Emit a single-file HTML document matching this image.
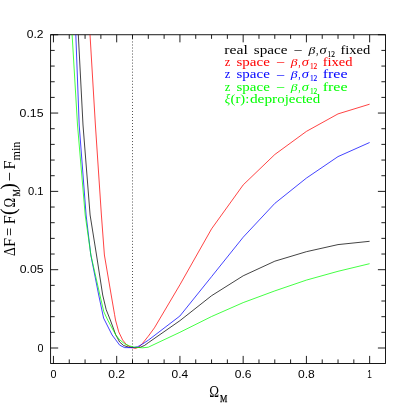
<!DOCTYPE html>
<html><head><meta charset="utf-8"><title>plot</title>
<style>html,body{margin:0;padding:0;background:#fff;overflow:hidden;}svg{display:block;}text{font-family:"Liberation Serif",serif;}.n{font-family:"Liberation Sans",sans-serif;font-size:11.2px;}</style></head><body>
<svg width="407" height="407" viewBox="0 0 407 407">
<rect width="407" height="407" fill="#fff"/>
<defs><filter id="g" x="0" y="0" width="407" height="407" filterUnits="userSpaceOnUse"><feOffset dx="0" dy="0"/></filter><clipPath id="c"><rect x="50.60" y="34.75" width="334.90" height="328.75"/></clipPath></defs>
<path d="M53.45 363.50v-7.60M53.45 34.75v7.60M69.26 363.50v-4.10M69.26 34.75v4.10M85.07 363.50v-4.10M85.07 34.75v4.10M100.88 363.50v-4.10M100.88 34.75v4.10M116.69 363.50v-7.60M116.69 34.75v7.60M132.50 363.50v-4.10M132.50 34.75v4.10M148.31 363.50v-4.10M148.31 34.75v4.10M164.12 363.50v-4.10M164.12 34.75v4.10M179.93 363.50v-7.60M179.93 34.75v7.60M195.74 363.50v-4.10M195.74 34.75v4.10M211.55 363.50v-4.10M211.55 34.75v4.10M227.36 363.50v-4.10M227.36 34.75v4.10M243.17 363.50v-7.60M243.17 34.75v7.60M258.98 363.50v-4.10M258.98 34.75v4.10M274.79 363.50v-4.10M274.79 34.75v4.10M290.60 363.50v-4.10M290.60 34.75v4.10M306.41 363.50v-7.60M306.41 34.75v7.60M322.22 363.50v-4.10M322.22 34.75v4.10M338.03 363.50v-4.10M338.03 34.75v4.10M353.84 363.50v-4.10M353.84 34.75v4.10M369.65 363.50v-7.60M369.65 34.75v7.60M50.60 348.00h7.60M385.50 348.00h-7.60M50.60 332.34h4.10M385.50 332.34h-4.10M50.60 316.68h4.10M385.50 316.68h-4.10M50.60 301.01h4.10M385.50 301.01h-4.10M50.60 285.35h4.10M385.50 285.35h-4.10M50.60 269.69h7.60M385.50 269.69h-7.60M50.60 254.03h4.10M385.50 254.03h-4.10M50.60 238.36h4.10M385.50 238.36h-4.10M50.60 222.70h4.10M385.50 222.70h-4.10M50.60 207.04h4.10M385.50 207.04h-4.10M50.60 191.38h7.60M385.50 191.38h-7.60M50.60 175.71h4.10M385.50 175.71h-4.10M50.60 160.05h4.10M385.50 160.05h-4.10M50.60 144.39h4.10M385.50 144.39h-4.10M50.60 128.72h4.10M385.50 128.72h-4.10M50.60 113.06h7.60M385.50 113.06h-7.60M50.60 97.40h4.10M385.50 97.40h-4.10M50.60 81.74h4.10M385.50 81.74h-4.10M50.60 66.07h4.10M385.50 66.07h-4.10M50.60 50.41h4.10M385.50 50.41h-4.10M50.60 34.75h7.60M385.50 34.75h-7.60" stroke="#000" stroke-width="0.88" fill="none"/>
<rect x="50.60" y="34.75" width="334.90" height="328.75" fill="none" stroke="#000" stroke-width="0.9"/>
<path d="M132.50 35.50V363.50" stroke="#000" stroke-width="0.8" stroke-dasharray="0.85 2.17" fill="none"/>
<g clip-path="url(#c)" fill="none" stroke-width="0.74" stroke-linejoin="round">
<polyline points="76.2,0.0 78.3,34.5 83.0,125.0 90.1,215.0 96.5,255.0 102.7,295.0 106.2,309.7 110.3,320.0 115.7,334.7 119.7,342.1 123.6,345.5 128.5,347.1 134.7,347.6 140.0,347.4 144.6,345.4 148.3,342.7 179.9,320.7 211.6,295.7 243.2,275.8 274.8,261.2 306.4,251.7 338.0,244.6 369.6,241.3" stroke="#000"/>
<polyline points="88.0,0.0 90.0,34.5 95.4,125.0 101.4,215.0 104.4,255.0 111.2,295.0 114.6,314.7 115.5,320.0 118.7,331.8 122.6,339.9 126.5,344.8 131.4,347.5 135.4,348.4 139.0,347.1 142.6,343.3 148.3,336.2 154.4,327.9 179.9,284.8 211.6,228.8 243.2,184.9 274.8,154.5 306.4,131.4 338.0,113.9 369.6,104.2" stroke="#f00"/>
<polyline points="73.9,0.0 75.8,34.5 79.2,125.0 86.1,215.0 90.8,255.0 98.7,295.0 103.6,318.1 112.1,335.0 115.7,339.8 119.7,345.2 124.6,347.6 132.4,347.7 137.7,346.7 142.6,344.0 148.3,340.2 179.9,316.0 211.6,276.6 243.2,237.2 274.8,203.4 306.4,178.1 338.0,156.6 369.6,142.5" stroke="#00f"/>
<polyline points="70.0,0.0 72.1,34.5 77.5,125.0 85.2,215.0 90.9,255.0 99.9,295.0 103.8,311.7 107.7,320.0 115.8,335.0 119.7,339.8 124.6,343.8 129.5,345.9 134.4,347.2 140.0,347.6 142.6,347.8 148.3,347.2 179.9,332.3 211.6,316.5 243.2,302.6 274.8,290.9 306.4,280.1 338.0,271.3 369.6,263.7" stroke="#0f0"/>
</g>
<g filter="url(#g)" style="will-change:transform">
<text class="n" x="53.45" y="377.90" text-anchor="middle" textLength="6.0" lengthAdjust="spacingAndGlyphs">0</text>
<text class="n" x="116.69" y="377.90" text-anchor="middle" textLength="16.8" lengthAdjust="spacingAndGlyphs">0.2</text>
<text class="n" x="179.93" y="377.90" text-anchor="middle" textLength="16.6" lengthAdjust="spacingAndGlyphs">0.4</text>
<text class="n" x="243.17" y="377.90" text-anchor="middle" textLength="16.8" lengthAdjust="spacingAndGlyphs">0.6</text>
<text class="n" x="306.41" y="377.90" text-anchor="middle" textLength="16.8" lengthAdjust="spacingAndGlyphs">0.8</text>
<text class="n" x="369.65" y="377.90" text-anchor="middle" textLength="4.6" lengthAdjust="spacingAndGlyphs">1</text>
<text class="n" x="43.60" y="351.70" text-anchor="end" textLength="6.0" lengthAdjust="spacingAndGlyphs">0</text>
<text class="n" x="43.60" y="273.39" text-anchor="end" textLength="23.8" lengthAdjust="spacingAndGlyphs">0.05</text>
<text class="n" x="43.60" y="195.07" text-anchor="end" textLength="15.6" lengthAdjust="spacingAndGlyphs">0.1</text>
<text class="n" x="43.60" y="116.76" text-anchor="end" textLength="24.0" lengthAdjust="spacingAndGlyphs">0.15</text>
<text class="n" x="43.60" y="38.45" text-anchor="end" textLength="16.8" lengthAdjust="spacingAndGlyphs">0.2</text>
<text x="224.30" y="53.60" font-size="12.8px" fill="#000" textLength="23.5" lengthAdjust="spacingAndGlyphs">real</text>
<text x="253.80" y="53.60" font-size="12.8px" fill="#000" textLength="33.7" lengthAdjust="spacingAndGlyphs">space</text>
<text x="294.60" y="52.90" font-size="12.8px" fill="#000" textLength="7.2" lengthAdjust="spacingAndGlyphs">–</text>
<text x="308.40" y="53.60" font-size="11.4px" fill="#000" textLength="6.8" lengthAdjust="spacingAndGlyphs" font-style="italic">β</text>
<text x="315.90" y="53.60" font-size="12.8px" fill="#000" textLength="2.4" lengthAdjust="spacingAndGlyphs">,</text>
<text x="319.40" y="53.60" font-size="12.8px" fill="#000" textLength="7.1" lengthAdjust="spacingAndGlyphs" font-style="italic">σ</text>
<text x="327.60" y="56.70" font-size="7.3px" fill="#000" textLength="7.4" lengthAdjust="spacingAndGlyphs" stroke="#000" stroke-width="0.12">12</text>
<text x="340.40" y="53.60" font-size="12.8px" fill="#000" textLength="29.9" lengthAdjust="spacingAndGlyphs">fixed</text>
<text x="224.80" y="65.90" font-size="12.8px" fill="#f00" textLength="5.6" lengthAdjust="spacingAndGlyphs">z</text>
<text x="236.50" y="65.90" font-size="12.8px" fill="#f00" textLength="33.3" lengthAdjust="spacingAndGlyphs">space</text>
<text x="276.90" y="65.20" font-size="12.8px" fill="#f00" textLength="7.2" lengthAdjust="spacingAndGlyphs">–</text>
<text x="290.70" y="65.90" font-size="11.4px" fill="#f00" textLength="6.8" lengthAdjust="spacingAndGlyphs" font-style="italic">β</text>
<text x="298.20" y="65.90" font-size="12.8px" fill="#f00" textLength="2.4" lengthAdjust="spacingAndGlyphs">,</text>
<text x="301.70" y="65.90" font-size="12.8px" fill="#f00" textLength="7.1" lengthAdjust="spacingAndGlyphs" font-style="italic">σ</text>
<text x="309.90" y="69.00" font-size="7.3px" fill="#f00" textLength="7.4" lengthAdjust="spacingAndGlyphs" stroke="#f00" stroke-width="0.12">12</text>
<text x="322.70" y="65.90" font-size="12.8px" fill="#f00" textLength="29.9" lengthAdjust="spacingAndGlyphs">fixed</text>
<text x="224.80" y="78.30" font-size="12.8px" fill="#00f" textLength="5.6" lengthAdjust="spacingAndGlyphs">z</text>
<text x="236.50" y="78.30" font-size="12.8px" fill="#00f" textLength="33.3" lengthAdjust="spacingAndGlyphs">space</text>
<text x="276.90" y="77.60" font-size="12.8px" fill="#00f" textLength="7.2" lengthAdjust="spacingAndGlyphs">–</text>
<text x="290.70" y="78.30" font-size="11.4px" fill="#00f" textLength="6.8" lengthAdjust="spacingAndGlyphs" font-style="italic">β</text>
<text x="298.20" y="78.30" font-size="12.8px" fill="#00f" textLength="2.4" lengthAdjust="spacingAndGlyphs">,</text>
<text x="301.70" y="78.30" font-size="12.8px" fill="#00f" textLength="7.1" lengthAdjust="spacingAndGlyphs" font-style="italic">σ</text>
<text x="309.90" y="81.40" font-size="7.3px" fill="#00f" textLength="7.4" lengthAdjust="spacingAndGlyphs" stroke="#00f" stroke-width="0.12">12</text>
<text x="322.70" y="78.30" font-size="12.8px" fill="#00f" textLength="24.9" lengthAdjust="spacingAndGlyphs">free</text>
<text x="224.80" y="90.60" font-size="12.8px" fill="#0f0" textLength="5.6" lengthAdjust="spacingAndGlyphs">z</text>
<text x="236.50" y="90.60" font-size="12.8px" fill="#0f0" textLength="33.3" lengthAdjust="spacingAndGlyphs">space</text>
<text x="276.90" y="89.90" font-size="12.8px" fill="#0f0" textLength="7.2" lengthAdjust="spacingAndGlyphs">–</text>
<text x="290.70" y="90.60" font-size="11.4px" fill="#0f0" textLength="6.8" lengthAdjust="spacingAndGlyphs" font-style="italic">β</text>
<text x="298.20" y="90.60" font-size="12.8px" fill="#0f0" textLength="2.4" lengthAdjust="spacingAndGlyphs">,</text>
<text x="301.70" y="90.60" font-size="12.8px" fill="#0f0" textLength="7.1" lengthAdjust="spacingAndGlyphs" font-style="italic">σ</text>
<text x="309.90" y="93.70" font-size="7.3px" fill="#0f0" textLength="7.4" lengthAdjust="spacingAndGlyphs" stroke="#0f0" stroke-width="0.12">12</text>
<text x="322.70" y="90.60" font-size="12.8px" fill="#0f0" textLength="24.9" lengthAdjust="spacingAndGlyphs">free</text>
<text x="224.70" y="102.80" font-size="12.8px" fill="#0f0" textLength="5.5" lengthAdjust="spacingAndGlyphs" font-style="italic">ξ</text>
<text x="230.60" y="102.80" font-size="12.8px" fill="#0f0" textLength="18.7" lengthAdjust="spacingAndGlyphs">(r):</text>
<text x="249.90" y="102.80" font-size="12.8px" fill="#0f0" textLength="27.3" lengthAdjust="spacingAndGlyphs">depr</text>
<text x="277.20" y="102.80" font-size="12.8px" fill="#0f0" textLength="43.0" lengthAdjust="spacingAndGlyphs">ojected</text>
<text x="209.30" y="397.20" font-size="16.8px" fill="#000" textLength="9.8" lengthAdjust="spacingAndGlyphs">Ω</text>
<text x="219.90" y="402.10" font-size="9.8px" fill="#000" textLength="7.3" lengthAdjust="spacingAndGlyphs" stroke="#000" stroke-width="0.25">M</text>
<g transform="translate(14.7,0) rotate(-90)">
<text x="-256.10" y="0.00" font-size="17.0px" fill="#000" textLength="8.8" lengthAdjust="spacingAndGlyphs">Δ</text>
<text x="-246.90" y="0.00" font-size="17.0px" fill="#000" textLength="9.0" lengthAdjust="spacingAndGlyphs">F</text>
<text x="-236.00" y="0.00" font-size="17.0px" fill="#000" textLength="8.2" lengthAdjust="spacingAndGlyphs">=</text>
<text x="-224.30" y="0.00" font-size="17.0px" fill="#000" textLength="9.0" lengthAdjust="spacingAndGlyphs">F</text>
<text x="-215.00" y="0.00" font-size="20.0px" fill="#000" textLength="6.6" lengthAdjust="spacingAndGlyphs">(</text>
<text x="-207.40" y="0.00" font-size="17.0px" fill="#000" textLength="9.6" lengthAdjust="spacingAndGlyphs">Ω</text>
<text x="-196.60" y="5.00" font-size="10.2px" fill="#000" textLength="7.2" lengthAdjust="spacingAndGlyphs" stroke="#000" stroke-width="0.25">M</text>
<text x="-189.80" y="0.00" font-size="20.0px" fill="#000" textLength="6.6" lengthAdjust="spacingAndGlyphs">)</text>
<text x="-181.40" y="0.00" font-size="17.0px" fill="#000" textLength="9.6" lengthAdjust="spacingAndGlyphs">−</text>
<text x="-169.50" y="0.00" font-size="17.0px" fill="#000" textLength="9.0" lengthAdjust="spacingAndGlyphs">F</text>
<text x="-160.40" y="5.20" font-size="12.0px" fill="#000" textLength="18.8" lengthAdjust="spacingAndGlyphs">min</text>
</g>
</svg></body></html>
